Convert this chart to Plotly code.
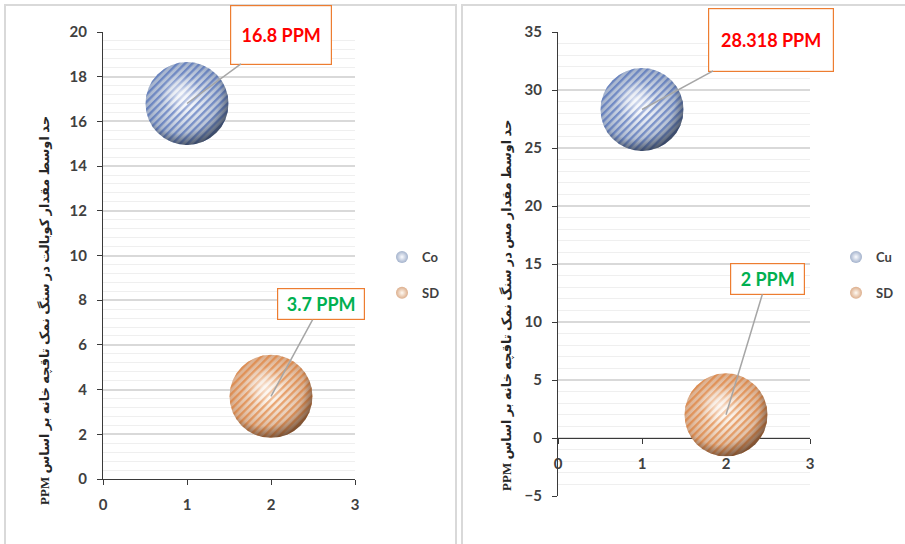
import base64
import plotly.graph_objects as go

# ---------------- data ----------------
x_pos = [1, 2]
cobalt_names = ["Co", "SD"]
cobalt_values = [16.8, 3.7]
copper_names = ["Cu", "SD"]
copper_values = [28.318, 2]
x_ticks = [0, 1, 2, 3]
y_ticks_co = [0, 2, 4, 6, 8, 10, 12, 14, 16, 18, 20]
y_ticks_cu = [-5, 0, 5, 10, 15, 20, 25, 30, 35]
title_co = "حد اوسط مقدار کوبالت در سنگ نمک تاقچه خانه بر اساس PPM"
title_cu = "حد اوسط مقدار مس در سنگ نمک تاقچه خانه بر اساس PPM"

# ---------------- layout constants ----------------
W, H = 905, 544
DIAM = 83  # bubble diameter in px


def px_x(p):
    return p / W


def px_y(p):
    return 1 - p / H


dom_x1 = [px_x(103), px_x(355)]
dom_y1 = [px_y(479), px_y(32)]
dom_x2 = [px_x(558), px_x(810)]
dom_y2 = [px_y(496), px_y(32)]
range_x = [0, 3]
range_y1 = [0, 20]
range_y2 = [-5, 35]

BLUE = dict(edge="#a3b2cc", center="#fbfcff", stripe="#3f63b5", shadow="#1c2535")
ORANGE = dict(edge="#dcae8c", center="#fffaf3", stripe="#e0772a", shadow="#4a2c18")
styles = [BLUE, ORANGE]
label_colors = ["#ff0000", "#00b050"]


def sphere_image(st):
    svg = f'''<svg xmlns="http://www.w3.org/2000/svg" viewBox="0 0 100 100" width="200" height="200">
<defs>
<pattern id="p" patternUnits="userSpaceOnUse" width="6.4" height="6.4" patternTransform="rotate(-45 50 50)">
<rect x="0" y="0" width="6.4" height="2.8" fill="{st['stripe']}" fill-opacity="0.6"/>
</pattern>
<radialGradient id="s" cx="0.42" cy="0.38" r="0.66">
<stop offset="0" stop-color="#ffffff" stop-opacity="0.7"/>
<stop offset="0.36" stop-color="#ffffff" stop-opacity="0.0"/>
<stop offset="0.72" stop-color="{st['shadow']}" stop-opacity="0.05"/>
<stop offset="1" stop-color="{st['shadow']}" stop-opacity="0.75"/>
</radialGradient>
</defs>
<circle cx="50" cy="50" r="50" fill="url(#p)"/>
<circle cx="50" cy="50" r="50" fill="url(#s)"/>
</svg>'''
    return "data:image/svg+xml;base64," + base64.b64encode(svg.encode()).decode()


fig = go.Figure()

panels = [
    dict(names=cobalt_names, values=cobalt_values, xa="x", ya="y", legend="legend",
         dom_x=dom_x1, dom_y=dom_y1, ry=range_y1,
         boxes=[dict(ax=94, ay=-69, w=100, h=58), dict(ax=50, ay=-92, w=86, h=30)]),
    dict(names=copper_names, values=copper_values, xa="x2", ya="y2", legend="legend2",
         dom_x=dom_x2, dom_y=dom_y2, ry=range_y2,
         boxes=[dict(ax=129, ay=-70, w=124, h=62), dict(ax=41, ay=-136, w=73, h=30)]),
]

images = []
annotations = []
for p in panels:
    ppx = (p["dom_x"][1] - p["dom_x"][0]) * W / (range_x[1] - range_x[0])
    ppy = (p["dom_y"][1] - p["dom_y"][0]) * H / (p["ry"][1] - p["ry"][0])
    for i, (name, val) in enumerate(zip(p["names"], p["values"])):
        st = styles[i]
        fig.add_trace(go.Scatter(
            x=[x_pos[i]], y=[val], mode="markers", name=name,
            xaxis=p["xa"], yaxis=p["ya"], legend=p["legend"], legendgroup=p["legend"] + name,
            marker=dict(size=DIAM, color=st["edge"], line=dict(width=0),
                        gradient=dict(type="radial", color=st["center"])),
            cliponaxis=False,
        ))
        images.append(dict(
            source=sphere_image(st), xref=p["xa"], yref=p["ya"],
            x=x_pos[i], y=val, xanchor="center", yanchor="middle",
            sizex=DIAM / ppx, sizey=DIAM / ppy, sizing="stretch", layer="above",
        ))
        b = p["boxes"][i]
        annotations.append(dict(
            x=x_pos[i], y=val, xref=p["xa"], yref=p["ya"],
            text=f"{val:g} PPM", showarrow=True, arrowhead=0, arrowwidth=1.5,
            arrowcolor="#a6a6a6", ax=b["ax"], ay=b["ay"], standoff=0,
            bordercolor="#ed7d31", borderwidth=1.2, borderpad=0, bgcolor="#ffffff",
            width=b["w"], height=b["h"], align="center", valign="middle",
            font=dict(family="Lato, Open Sans, sans-serif", size=18, color=label_colors[i], weight="bold"),
        ))

# rotated axis titles (wrapped in a right-to-left embedding so the Latin unit sits at the end)
for txt, xc, yc in [(title_co, 44, 311), (title_cu, 506, 306)]:
    annotations.append(dict(
        text="\u202b" + txt + "\u202c", xref="paper", yref="paper", x=px_x(xc), y=px_y(yc),
        showarrow=False, textangle=-90, xanchor="center", yanchor="middle",
        font=dict(family="Liberation Serif, DejaVu Sans, serif", size=13, color="#262626", weight="bold"),
    ))

tick_font = dict(family="Lato, Open Sans, sans-serif", size=15, color="#404040", weight="bold")
axis_common = dict(showline=True, linecolor="#3a3a3a", linewidth=1.3, ticks="outside",
                   ticklen=5, tickcolor="#3a3a3a", tickwidth=1.3, zeroline=False,
                   tickfont=tick_font, fixedrange=True, automargin=False)
legend_font = dict(family="Lato, Open Sans, sans-serif", size=13, color="#404040", weight="bold")

fig.update_layout(
    width=W, height=H, margin=dict(l=0, r=0, t=0, b=0, autoexpand=False),
    paper_bgcolor="#ffffff", plot_bgcolor="#ffffff",
    xaxis=dict(domain=dom_x1, anchor="y", range=range_x, tickvals=x_ticks, showgrid=False,
               ticklabelstandoff=7, **axis_common),
    yaxis=dict(domain=dom_y1, anchor="x", range=range_y1, tickvals=y_ticks_co,
               showgrid=True, gridcolor="#d9d9d9", gridwidth=1.5,
               minor=dict(dtick=0.4, showgrid=True, gridcolor="#efefef", gridwidth=1),
               ticklabelstandoff=7, **axis_common),
    xaxis2=dict(domain=dom_x2, anchor="free",
                position=dom_y2[0] + (0 - range_y2[0]) / (range_y2[1] - range_y2[0]) * (dom_y2[1] - dom_y2[0]),
                range=range_x, tickvals=x_ticks, showgrid=False, layer="below traces",
                ticklabelstandoff=7, **axis_common),
    yaxis2=dict(domain=dom_y2, anchor="x2", range=range_y2, tickvals=y_ticks_cu,
                showgrid=True, gridcolor="#d9d9d9", gridwidth=1.5,
                minor=dict(dtick=1, showgrid=True, gridcolor="#efefef", gridwidth=1),
                ticklabelstandoff=7, **axis_common),
    legend=dict(x=px_x(382), y=px_y(275), xanchor="left", yanchor="middle",
                itemsizing="constant", tracegroupgap=16, bgcolor="rgba(0,0,0,0)", font=legend_font),
    legend2=dict(x=px_x(836), y=px_y(275), xanchor="left", yanchor="middle",
                 itemsizing="constant", tracegroupgap=16, bgcolor="rgba(0,0,0,0)", font=legend_font),
    images=images,
    annotations=annotations,
    shapes=[
        dict(type="rect", xref="paper", yref="paper", x0=px_x(5), x1=px_x(456), y0=-0.05, y1=px_y(5),
             line=dict(color="#d9d9d9", width=2), layer="below"),
        dict(type="rect", xref="paper", yref="paper", x0=px_x(462), x1=1.05, y0=-0.05, y1=px_y(5),
             line=dict(color="#d9d9d9", width=2), layer="below"),
    ],
    showlegend=True,
)

fig.write_html("out.html")
